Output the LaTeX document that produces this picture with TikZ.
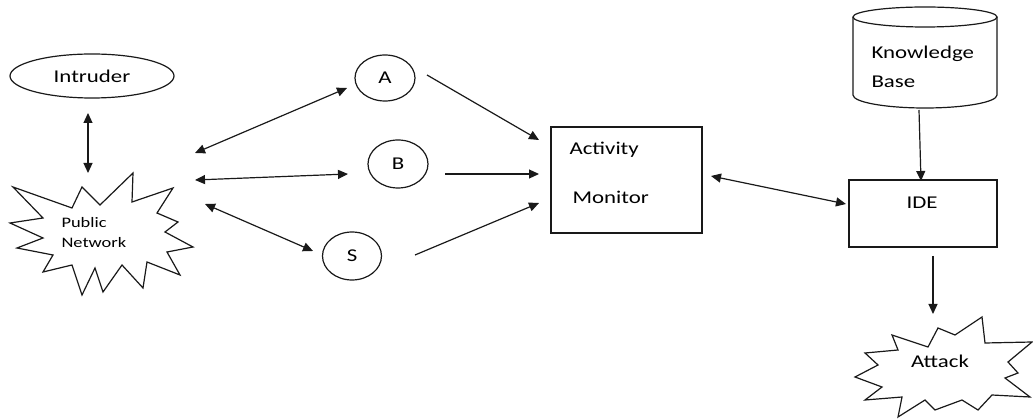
\documentclass[tikz,border=0pt]{standalone}
\usepackage{fontspec}
\setmainfont{Carlito}
\usepackage{graphicx}
\usetikzlibrary{arrows.meta,shapes.geometric}
\newcommand\wt[1]{\scalebox{1.27}[1]{#1}}
\begin{document}
\begin{tikzpicture}[x=1pt,y=-1pt,
  every node/.style={text=black},
  ln/.style={line width=1.2pt,draw=black!90},
  arr/.style={ln,-{Triangle[length=10pt,width=9pt]}},
  darr/.style={ln,{Triangle[length=10pt,width=9pt]}-{Triangle[length=10pt,width=9pt]}},
  big/.style={font=\fontsize{18}{22}\selectfont},
  small/.style={font=\fontsize{14.5}{20}\selectfont},
  circ/.style={ellipse,ln,inner sep=0pt},
  boxn/.style={rectangle,ln,inner sep=0pt}]
\useasboundingbox (0,0) rectangle (1033,419);

% Intruder
\node[circ,minimum width=164,minimum height=44,big] (intr) at (92,76) {\wt{Intruder}};

% Public network starburst
\draw[ln,fill=white] (13,187) -- (72,208) -- (82,187) -- (100,205) -- (133,173)
  -- (132,202) -- (173,188) -- (157,213) -- (178,222) -- (165,232) -- (193,247) -- (167,252)
  -- (180,275) -- (147,262) -- (143,288) -- (122,265) -- (103,292) -- (95,268) -- (82,295)
  -- (72,265) -- (43,272) -- (53,255) -- (17,248) -- (43,238) -- (10,223) -- (43,218) -- cycle;
\node[small,align=left,anchor=west] (pub) at (58,233) {\wt{Public}\\\wt{Network}};

% A, B, S
\node[circ,minimum width=60,minimum height=46,big] (A) at (385,78) {\wt{A}};
\node[circ,minimum width=60,minimum height=48,big] (B) at (398,164) {\wt{B}};
\node[circ,minimum width=59,minimum height=48,big] (S) at (352,256) {\wt{S}};

% Activity monitor
\node[boxn,minimum width=151,minimum height=106] (am) at (626.5,180) {};
\node[big,anchor=west] (amt1) at (566,150) {\wt{Activity}};
\node[big,anchor=west] (amt2) at (569,197) {\wt{Monitor}};

% Knowledge base cylinder
\draw[ln,fill=white] (853,17) -- (853,95) arc[start angle=180,end angle=0,x radius=72,y radius=13]
  -- (997,17);
\draw[ln,fill=white] (925,17) ellipse[x radius=72,y radius=10];
\node[big,align=left,anchor=west] (kbt) at (868,67) {\wt{Knowledge}\\[7pt]\wt{Base}};

% IDE
\node[boxn,minimum width=148,minimum height=67] (ide) at (923,213.5) {};
\node[big] (idet) at (922,203) {\wt{IDE}};

% Attack starburst
\draw[ln,fill=white] (892,335) -- (928,347) -- (938,328) -- (955,335) -- (982,317) -- (985,343)
  -- (1032,342) -- (1008,362) -- (1018,373) -- (1005,378) -- (1030,397) -- (992,395)
  -- (978,410) -- (962,400) -- (935,410) -- (925,400) -- (898,417) -- (902,397)
  -- (865,400) -- (882,387) -- (855,377) -- (878,365) -- (865,353) -- (898,350) -- cycle;
\node[big] (att) at (940,361) {\wt{Attack}};

% connector end points
\coordinate (i1) at (88,113);
\coordinate (i2) at (88,173);
\coordinate (p1) at (195,153);
\coordinate (p2) at (195,180);
\coordinate (p3) at (205,204);
\coordinate (a1) at (347,88);
\coordinate (b1) at (348,174);
\coordinate (s1) at (313,251);
\coordinate (a2) at (427,75);
\coordinate (b2) at (445,174);
\coordinate (s2) at (415,255);
\coordinate (m1) at (539,140);
\coordinate (m2) at (539,174);
\coordinate (m3) at (539,203);
\coordinate (m4) at (711,176);
\coordinate (d1) at (846,204);
\coordinate (k1) at (919,110);
\coordinate (d2) at (921,181);
\coordinate (d3) at (933,256);
\coordinate (t1) at (933,314);

\draw[darr] (i1) -- (i2);
\draw[darr] (p1) -- (a1);
\draw[darr] (p2) -- (b1);
\draw[darr] (p3) -- (s1);
\draw[arr] (a2) -- (m1);
\draw[arr] (b2) -- (m2);
\draw[arr] (s2) -- (m3);
\draw[darr] (m4) -- (d1);
\draw[arr] (k1) -- (d2);
\draw[arr] (d3) -- (t1);
\end{tikzpicture}
\end{document}
